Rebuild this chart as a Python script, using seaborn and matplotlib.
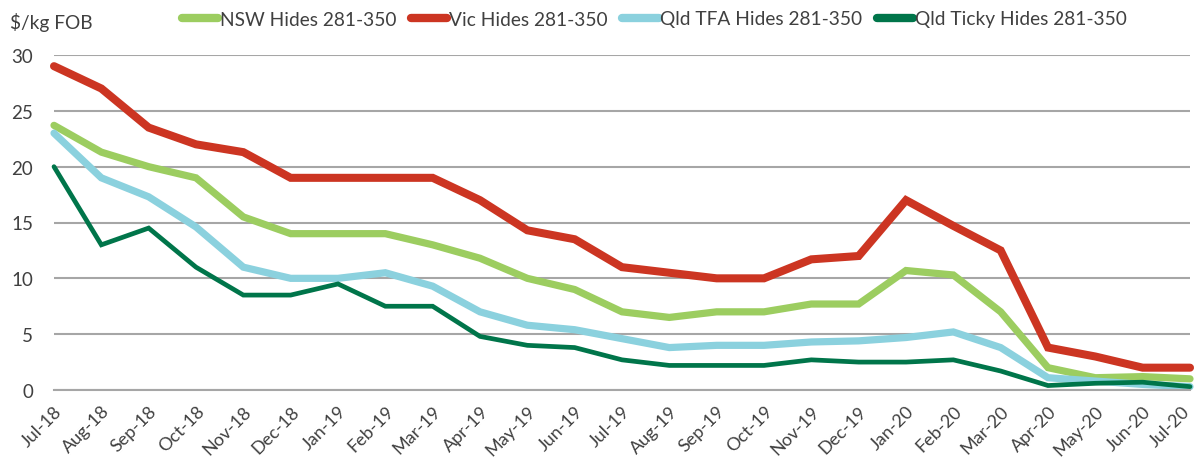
import numpy as np
import pandas as pd
import matplotlib
matplotlib.use("Agg")
import matplotlib.pyplot as plt
import matplotlib.transforms as mtrans
import seaborn as sns
from matplotlib.lines import Line2D

# 数据
months = ["Jul-18", "Aug-18", "Sep-18", "Oct-18", "Nov-18", "Dec-18", "Jan-19", "Feb-19",
          "Mar-19", "Apr-19", "May-19", "Jun-19", "Jul-19", "Aug-19", "Sep-19", "Oct-19",
          "Nov-19", "Dec-19", "Jan-20", "Feb-20", "Mar-20", "Apr-20", "May-20", "Jun-20", "Jul-20"]
nsw = [23.7, 21.3, 20.0, 19.0, 15.5, 14.0, 14.0, 14.0, 13.0, 11.8, 10.0, 9.0, 7.0,
       6.5, 7.0, 7.0, 7.7, 7.7, 10.7, 10.3, 7.0, 2.0, 1.1, 1.2, 1.0]
vic = [29.0, 27.0, 23.5, 22.0, 21.3, 19.0, 19.0, 19.0, 19.0, 17.0, 14.3, 13.5, 11.0,
       10.5, 10.0, 10.0, 11.7, 12.0, 17.0, 14.7, 12.5, 3.8, 3.0, 2.0, 2.0]
qld_tfa = [23.0, 19.0, 17.3, 14.6, 11.0, 10.0, 10.0, 10.5, 9.3, 7.0, 5.8, 5.4, 4.6,
           3.8, 4.0, 4.0, 4.3, 4.4, 4.7, 5.2, 3.8, 1.1, 0.8, 0.5, 0.3]
qld_ticky = [20.0, 13.0, 14.5, 11.0, 8.5, 8.5, 9.5, 7.5, 7.5, 4.8, 4.0, 3.8, 2.7,
             2.2, 2.2, 2.2, 2.7, 2.5, 2.5, 2.7, 1.7, 0.4, 0.6, 0.7, 0.3]
series_names = ["NSW Hides 281-350", "Vic Hides 281-350", "Qld TFA Hides 281-350", "Qld Ticky Hides 281-350"]
colors = ["#9ccd60", "#cc3522", "#8bd1de", "#00754a"]
widths = [5.2, 5.8, 5.2, 3.4]

df = pd.DataFrame({"Month": months, series_names[0]: nsw, series_names[1]: vic,
                   series_names[2]: qld_tfa, series_names[3]: qld_ticky})
df["x"] = np.arange(len(months))
long_df = df.melt(id_vars=["Month", "x"], var_name="Series", value_name="Value")

sns.set_style("white")
plt.rcParams["font.family"] = ["Lato", "DejaVu Sans"]
text_color = "#404040"
grid_color = "#a6a6a6"

fig = plt.figure(figsize=(11.96, 4.64), dpi=100)
ax = fig.add_axes([54 / 1196, 73 / 464, (1190 - 54) / 1196, (391 - 56) / 464])

# 逐条画线
for name, c, w in zip(series_names, colors, widths):
    sns.lineplot(data=long_df[long_df["Series"] == name], x="x", y="Value", color=c,
                 linewidth=w, ax=ax, legend=False, clip_on=False, solid_joinstyle="miter")

ax.set_xlim(0, len(months) - 1)
ax.set_ylim(0, 30)
ax.set_yticks(range(0, 31, 5))
ax.set_xticks(df["x"])
ax.set_xticklabels(months, rotation=45, ha="right", rotation_mode="anchor")
ax.set_xlabel("")
ax.set_ylabel("")
ax.yaxis.grid(True, color=grid_color, linewidth=1.5)
ax.set_axisbelow(True)
for s in ["top", "right", "left"]:
    ax.spines[s].set_visible(False)
ax.spines["bottom"].set_color(grid_color)
ax.spines["bottom"].set_linewidth(1.5)
ax.tick_params(axis="y", length=0, pad=15, labelsize=13.5, labelcolor=text_color)
ax.tick_params(axis="x", length=6, width=1.2, color=grid_color, pad=3, labelsize=13, labelcolor=text_color)

# 最后一个标签稍微左移，避免被裁切
last = ax.get_xticklabels()[-1]
last.set_transform(last.get_transform() + mtrans.ScaledTranslation(-8 / 100, 0, fig.dpi_scale_trans))

fig.text(10 / 1196, 1 - 23 / 464, "$/kg FOB", fontsize=13.8, color=text_color, va="center", ha="left")

handles = [Line2D([0], [0], color=c, linewidth=6, solid_capstyle="round") for c in colors]
fig.legend(handles, series_names, loc="center left", bbox_to_anchor=(172 / 1196, 1 - 20 / 464),
           ncol=4, frameon=False, fontsize=13.8, handlelength=1.9, handletextpad=0.1,
           columnspacing=0.75, borderpad=0, labelcolor=text_color)

plt.savefig("out.png", dpi=100)
